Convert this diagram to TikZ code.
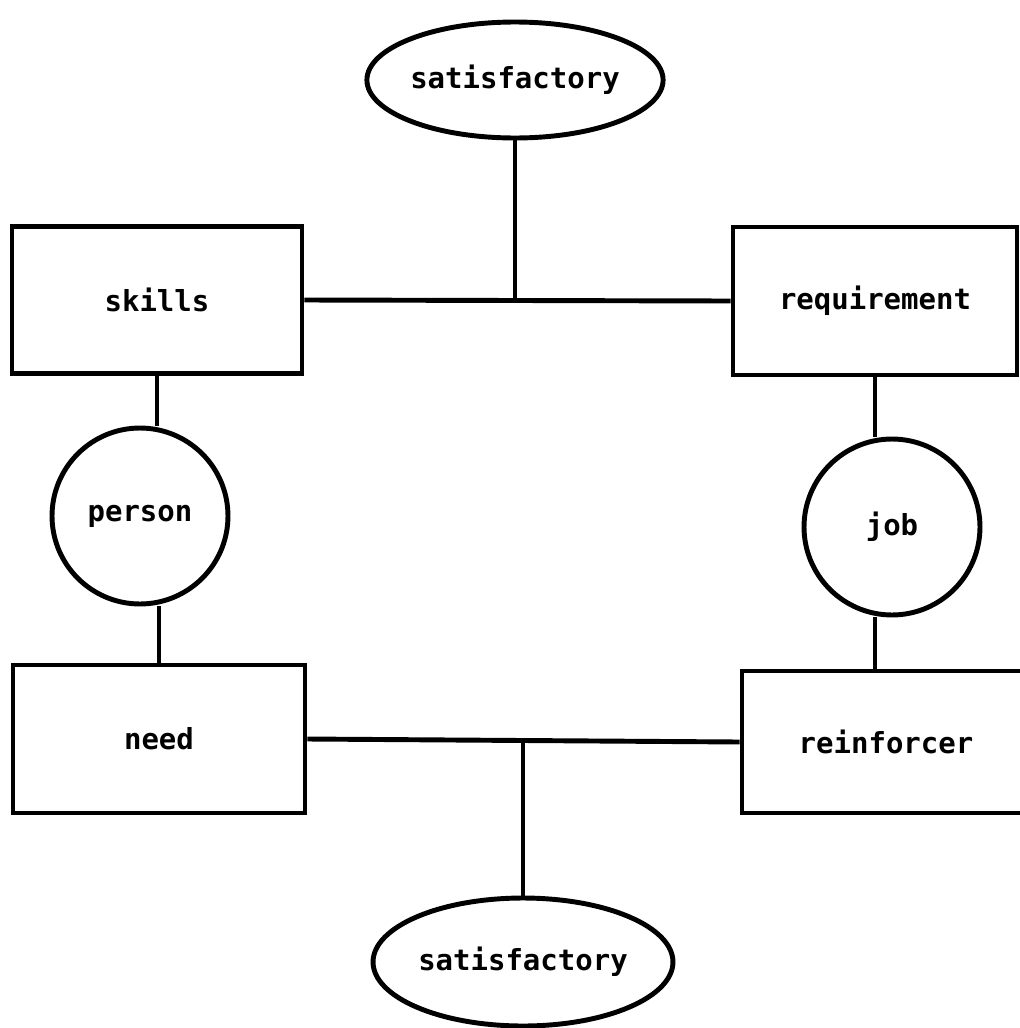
\documentclass[tikz,border=0pt]{standalone}
\usepackage{fontspec}
\setmonofont{DejaVu Sans Mono}
\usepackage{tikz}
\usetikzlibrary{positioning,shapes.geometric,calc}

\begin{document}
\begin{tikzpicture}[x=0.02cm,y=-0.02cm,line width=2.8pt,
    font=\ttfamily\bfseries\fontsize{16.5}{20}\selectfont,
    box/.style={draw,rectangle,minimum width=5.8cm,minimum height=2.94cm},
    circ/.style={draw,circle,minimum size=3.52cm,inner sep=0pt},
    oval/.style={draw,ellipse,inner sep=0pt}]
  % page = 1020 x 1028 px, one px = 0.02cm, y grows downward
  \useasboundingbox (0,0) rectangle (1020,1028);
  \clip (0,0) rectangle (1020,1028);
  % person side (left)
  \node[box] (skills) at (157,300) {skills};
  \node[circ] (person) at (140,516) {person};
  \node[box,minimum width=5.84cm,minimum height=2.96cm] (need) at (159,739) {need};
  % job side (right)
  \node[box,minimum width=5.68cm,minimum height=2.96cm] (req) at (875,301) {requirement};
  \node[circ] (job) at (892,527) {job};
  \node[box,minimum width=5.76cm,minimum height=2.84cm] (reinf) at (886,742) {reinforcer};
  % correspondence ovals
  \node[oval,minimum width=5.88cm,minimum height=2.32cm] (topsat) at (515,80) {satisfactory};
  \node[oval,minimum width=6cm,minimum height=2.56cm] (botsat) at (523,962) {satisfactory};
  % joints on the two horizontal links
  \coordinate (topjoin) at (topsat.south |- skills.east);
  \coordinate (botjoin) at (botsat.north |- need.east);
  % connectors
  \draw (skills.south) -- (skills.south |- person.north);
  \draw (need.north) -- (need.north |- person.south);
  \draw (req.south) -- (req.south |- job.north);
  \draw (reinf.north -| req.south) -- (req.south |- job.south);
  \draw (skills.east) -- (req.west);
  \draw (topsat.south) -- (topjoin);
  \draw (need.east) -- (reinf.west);
  \draw (botjoin) -- (botsat.north);
\end{tikzpicture}
\end{document}
